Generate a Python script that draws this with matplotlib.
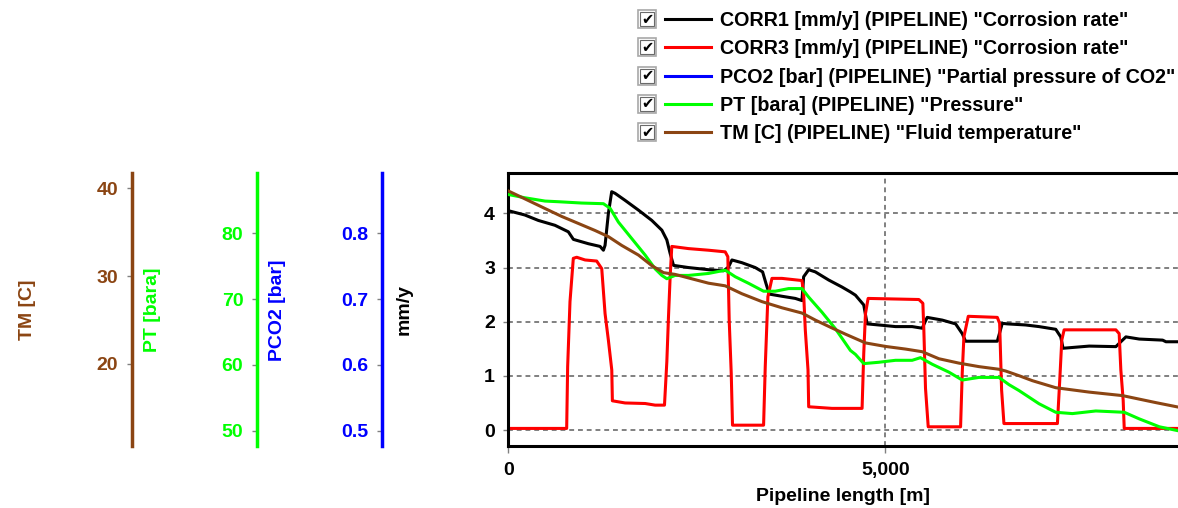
import matplotlib.pyplot as plt
from matplotlib.ticker import MultipleLocator, FuncFormatter
from matplotlib.patches import Rectangle

plt.rcParams['font.family'] = ['Liberation Sans', 'DejaVu Sans']
plt.rcParams['font.weight'] = 'bold'
plt.rcParams['axes.labelweight'] = 'bold'
plt.rcParams['font.size'] = 14

# CORR1 [mm/y]
corr1_x = [0, 220, 398, 619, 796, 863, 1062, 1217, 1261, 1283, 1327, 1371, 1416, 1549, 1726,
           1903, 2036, 2102, 2146, 2191, 2389, 2655, 2854, 2920, 2965, 3097, 3274, 3372, 3416,
           3460, 3628, 3806, 3894, 3916, 3983, 4071, 4248, 4425, 4536, 4603, 4713, 4758, 4913,
           5134, 5355, 5488, 5554, 5754, 5931, 6019, 6063, 6484, 6550, 6617, 6860, 7037, 7259,
           7325, 7356, 7702, 8056, 8122, 8189, 8366, 8676, 8720, 8880]
corr1 = [4.05, 3.97, 3.87, 3.78, 3.66, 3.52, 3.44, 3.39, 3.32, 3.41, 4.00, 4.40, 4.37, 4.24, 4.06,
         3.87, 3.69, 3.51, 3.26, 3.04, 3.00, 2.96, 2.94, 3.01, 3.14, 3.09, 3.00, 2.92, 2.71,
         2.51, 2.47, 2.43, 2.39, 2.83, 2.96, 2.92, 2.77, 2.64, 2.55, 2.49, 2.31, 1.96, 1.94,
         1.91, 1.91, 1.88, 2.08, 2.03, 1.96, 1.78, 1.64, 1.64, 1.97, 1.96, 1.94, 1.91, 1.86,
         1.72, 1.51, 1.55, 1.54, 1.63, 1.72, 1.68, 1.66, 1.63, 1.63]

# CORR3 [mm/y]
corr3_x = [0, 774, 787, 818, 862, 907, 1018, 1172, 1239, 1283, 1327, 1372, 1380, 1549, 1814,
           1947, 2071, 2102, 2124, 2146, 2168, 2389, 2655, 2876, 2911, 2929, 2956, 2973, 3385,
           3407, 3442, 3496, 3628, 3894, 3916, 3938, 3974, 3983, 4292, 4691, 4713, 4736, 4771,
           5444, 5497, 5510, 5532, 5568, 5997, 6019, 6041, 6099, 6484, 6515, 6541, 6572, 7281,
           7312, 7339, 7370, 8056, 8100, 8122, 8153, 8167, 8880]
corr3 = [0.03, 0.03, 1.17, 2.37, 3.17, 3.19, 3.14, 3.12, 2.98, 2.15, 1.66, 1.11, 0.54, 0.50, 0.49,
         0.46, 0.46, 1.26, 2.09, 2.83, 3.39, 3.35, 3.32, 3.29, 3.20, 2.03, 1.05, 0.09, 0.09,
         1.17, 2.46, 2.80, 2.80, 2.76, 2.52, 1.85, 1.11, 0.43, 0.40, 0.40, 1.41, 2.15, 2.43,
         2.41, 2.34, 1.85, 0.77, 0.06, 0.06, 1.05, 1.72, 2.10, 2.08, 1.97, 0.74, 0.12, 0.12,
         0.92, 1.66, 1.85, 1.85, 1.78, 1.11, 0.55, 0.03, 0.03]

# PCO2 [bar] - nothing visible inside the plotted range
pco2_x = []
pco2 = []

# PT [bara]
pt_x = [0, 220, 487, 664, 973, 1261, 1350, 1460, 1637, 1814, 1947, 2036, 2102, 2212, 2389,
        2655, 2876, 3009, 3186, 3385, 3540, 3717, 3894, 3983, 4160, 4337, 4470, 4536, 4603,
        4713, 4913, 5134, 5355, 5465, 5621, 5842, 6019, 6241, 6506, 6639, 6772, 7037, 7259,
        7480, 7790, 8167, 8366, 8632, 8880]
pt = [85.9, 85.4, 84.9, 84.8, 84.6, 84.5, 83.8, 81.7, 79.2, 76.7, 74.6, 73.6, 73.1, 73.6, 73.6,
      73.9, 74.4, 73.4, 72.4, 71.2, 71.2, 71.6, 71.6, 70.3, 68.0, 65.5, 63.3, 62.2, 61.6,
      60.2, 60.4, 60.7, 60.7, 61.1, 60.1, 58.9, 57.7, 58.1, 58.1, 57.0, 56.1, 54.1, 52.8,
      52.6, 53.0, 52.8, 51.8, 50.6, 50.0]

# TM [C]
tm_x = [0, 220, 487, 708, 929, 1150, 1327, 1504, 1726, 1903, 2058, 2212, 2433, 2655, 2876,
        3097, 3363, 3628, 3894, 4071, 4292, 4470, 4736, 5001, 5267, 5488, 5709, 5975, 6241,
        6506, 6595, 6794, 6949, 7259, 7702, 8145, 8588, 8880]
tm = [39.7, 38.8, 37.7, 36.8, 36.0, 35.2, 34.5, 33.5, 32.4, 31.2, 30.4, 30.2, 29.7, 29.2, 28.9,
      28.0, 27.1, 26.4, 25.8, 25.0, 24.1, 23.4, 22.4, 22.0, 21.7, 21.4, 20.6, 20.1, 19.7,
      19.4, 19.2, 18.6, 18.1, 17.3, 16.8, 16.4, 15.6, 15.1]

labels = ['CORR1 [mm/y] (PIPELINE) "Corrosion rate"',
          'CORR3 [mm/y] (PIPELINE) "Corrosion rate"',
          'PCO2 [bar] (PIPELINE) "Partial pressure of CO2"',
          'PT [bara] (PIPELINE) "Pressure"',
          'TM [C] (PIPELINE) "Fluid temperature"']

BROWN = '#8B4513'
GREEN = '#00FF00'
BLUE = '#0000FF'
GRAY = '#808080'

W, H = 1178, 508
fig = plt.figure(figsize=(W / 100, H / 100), dpi=100)
left_px, right_px, top_px, bot_px = 508.3, 1178, 173.3, 446.3
ax = fig.add_axes([left_px / W, 1 - bot_px / H, (right_px - left_px) / W, (bot_px - top_px) / H])

l1, = ax.plot(corr1_x, corr1, color='black', lw=2.2)
l2, = ax.plot(corr3_x, corr3, color='red', lw=2.2)
ax.set_xlim(0, 8880)
ax.set_ylim(-0.30, 4.74)
ax.yaxis.set_major_locator(MultipleLocator(1))
ax.xaxis.set_major_locator(MultipleLocator(5000))
ax.xaxis.set_major_formatter(FuncFormatter(lambda v, p: f'{v:,.0f}'))
ax.grid(color=GRAY, linestyle=(0, (2.5, 2)), lw=1.4)
ax.tick_params(axis='both', color=GRAY, width=1)
ax.tick_params(axis='y', length=3.6, pad=6)
ax.tick_params(axis='x', length=5, pad=6)
for name in ['left', 'top', 'bottom']:
    ax.spines[name].set_linewidth(2.2)
ax.spines['right'].set_visible(False)
ax.set_xlabel('Pipeline length [m]', fontsize=14, fontweight='bold', labelpad=6.5)


def side_axis(spine_px, color, lim, step):
    t = ax.twinx()
    for s in t.spines.values():
        s.set_visible(False)
    sp = t.spines['left']
    sp.set_visible(True)
    sp.set_position(('axes', (spine_px - left_px) / (right_px - left_px)))
    sp.set_color(color)
    sp.set_linewidth(2.5)
    t.yaxis.tick_left()
    t.set_ylim(lim)
    t.yaxis.set_major_locator(MultipleLocator(step))
    t.tick_params(axis='y', color=GRAY, width=1, length=3.6, pad=6)
    t.tick_params(axis='y', labelcolor=color)
    return t


ax_co2 = side_axis(381.7, BLUE, (0.4763, 0.8912), 0.1)
ax_pt = side_axis(256.7, GREEN, (47.63, 89.12), 10)
ax_tm = side_axis(131.7, BROWN, (10.63, 41.71), 10)

l3, = ax_co2.plot(pco2_x, pco2, color=BLUE, lw=2.2)
l4, = ax_pt.plot(pt_x, pt, color=GREEN, lw=2.2)
l5, = ax_tm.plot(tm_x, tm, color=BROWN, lw=2.2)

# axis titles, each about 104 px left of its spine
yc = 1 - ((top_px + bot_px) / 2) / H
for spine_px, text, color in [(131.7, 'TM [C]', BROWN), (256.7, 'PT [bara]', GREEN),
                              (381.7, 'PCO2 [bar]', BLUE), (left_px, 'mm/y', 'black')]:
    fig.text((spine_px - 104) / W, yc, text, rotation=90, ha='center', va='center',
             color=color, fontsize=14)

leg = fig.legend([l1, l2, l3, l4, l5], labels, loc='upper left',
                 bbox_to_anchor=(665 / W, 1 - 11 / H), frameon=False, borderpad=0,
                 borderaxespad=0, handlelength=2.35, handletextpad=0.45,
                 labelspacing=0.47, prop={'size': 14.2, 'weight': 'bold'})
for h in leg.get_lines():
    h.set_linewidth(2.2)

# check boxes in front of legend entries
fig.canvas.draw()
renderer = fig.canvas.get_renderer()
for h in leg.get_lines():
    bb = h.get_window_extent(renderer)
    cy = (bb.y0 + bb.y1) / 2
    x0 = bb.x0 - 27
    fig.patches.append(Rectangle((x0 / W, (cy - 9) / H), 18 / W, 18 / H,
                                 transform=fig.transFigure, facecolor='white',
                                 edgecolor='#a8a8a8', lw=1.2))
    fig.patches.append(Rectangle(((x0 + 2) / W, (cy - 7) / H), 14 / W, 14 / H,
                                 transform=fig.transFigure, facecolor='none',
                                 edgecolor='#6a6a6a', lw=0.8))
    fig.text((x0 + 9) / W, cy / H, '\u2714', family='DejaVu Sans', fontsize=10.5,
             ha='center', va='center', color='black', fontweight='normal')

fig.savefig('out.png', dpi=100)
